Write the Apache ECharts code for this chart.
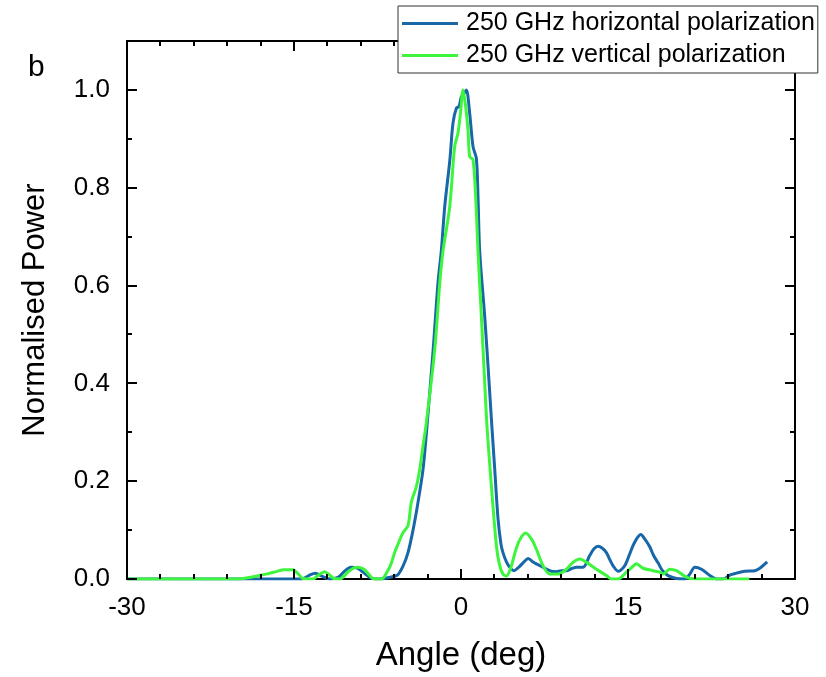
<!DOCTYPE html>
<html>
<head>
<meta charset="utf-8">
<script src="https://cdn.jsdelivr.net/npm/echarts@6/dist/echarts.min.js"></script>
<style>html,body{margin:0;padding:0;background:#fff}#c{width:826px;height:677px}</style>
</head>
<body>
<div id="c"></div>
<script>
// Data (angle in degrees, normalised power)
const hAngle = [-30,-17,-14.3,-13.6,-13.1,-12.5,-11.8,-11.0,-10.5,-9.9,-9.3,-8.7,-8.0,-7.2,-6.5,-6.1,-5.7,-5.2,-4.76,-4.31,-3.86,-3.41,-3.1,-2.5,-2.07,-1.76,-1.46,-1.0,-0.72,-0.41,-0.18,0.03,0.2,0.48,0.78,1.08,1.38,1.53,1.68,2.13,2.43,2.75,3.03,3.33,3.6,3.77,4.08,4.38,4.75,5.27,5.7,6.02,6.4,6.77,7.2,7.67,8.1,8.57,9.0,9.47,9.9,10.37,10.96,11.56,11.95,12.31,12.7,13.06,13.4,13.66,14.1,14.7,15.1,15.45,15.8,16.15,16.5,16.95,17.3,17.7,18.1,18.6,19.35,20.1,20.55,21.0,21.6,22.35,22.95,23.54,24.14,24.74,25.49,26.39,26.84,27.5];
const hPower = [0,0,0,0.008,0.012,0.006,0,0.004,0.015,0.024,0.022,0.012,0.001,0,0.003,0.005,0.008,0.027,0.054,0.10,0.157,0.224,0.30,0.469,0.605,0.673,0.762,0.857,0.932,0.963,0.966,0.986,0.99,1.0,0.952,0.884,0.86,0.78,0.67,0.537,0.435,0.32,0.224,0.122,0.07,0.054,0.035,0.024,0.017,0.026,0.036,0.042,0.036,0.031,0.026,0.020,0.016,0.015,0.017,0.017,0.021,0.024,0.024,0.048,0.062,0.067,0.063,0.054,0.038,0.027,0.016,0.027,0.048,0.068,0.083,0.091,0.082,0.066,0.048,0.033,0.017,0.007,0.001,0,0.010,0.024,0.020,0.007,0,0,0.008,0.012,0.016,0.017,0.022,0.035];
const vAngle = [-30,-20,-19.3,-18.1,-17.3,-16.6,-15.9,-15.1,-14.6,-14.2,-13.3,-12.8,-12.25,-11.8,-11.4,-10.9,-10.15,-9.6,-9.25,-8.65,-8.2,-7.9,-7.15,-6.7,-6.3,-5.96,-5.5,-5.2,-4.76,-4.46,-4.0,-3.71,-3.41,-3.11,-2.36,-1.91,-1.62,-1.01,-0.57,-0.27,-0.05,0.18,0.42,0.63,0.78,1.08,1.32,1.53,1.83,2.13,2.34,2.73,3.18,3.45,3.77,4.08,4.5,4.85,5.27,5.81,6.32,6.77,7.37,7.97,8.72,9.47,10.06,10.66,11.27,12.17,13.06,13.51,14.1,14.86,15.4,15.76,16.35,17.25,17.85,18.15,18.75,19.35,19.95,20.55,22.05,25.9];
const vPower = [0,0,0.002,0.007,0.011,0.015,0.019,0.019,0.01,0.001,0,0.008,0.015,0.008,0.001,0,0.014,0.023,0.024,0.019,0.007,0.001,0,0.012,0.03,0.054,0.08,0.095,0.109,0.157,0.19,0.224,0.272,0.32,0.469,0.605,0.67,0.762,0.884,0.912,0.952,1.0,0.966,0.918,0.864,0.857,0.78,0.67,0.537,0.401,0.31,0.19,0.068,0.03,0.010,0.006,0.025,0.054,0.080,0.094,0.082,0.061,0.027,0.010,0.010,0.020,0.034,0.041,0.034,0.020,0.007,0,0,0.014,0.025,0.031,0.022,0.017,0.014,0.010,0.020,0.017,0.008,0.001,0,0];
const seriesNames = ['250 GHz horizontal polarization', '250 GHz vertical polarization'];
// Tick positions
const xMajorTicks = [-30,-15,0,15,30];
const xMinorTicks = [-27,-24,-21,-18,-12,-9,-6,-3,3,6,9,12,18,21,24,27];
const yMajorTicks = [0,0.2,0.4,0.6,0.8,1.0];
const yMinorTicks = [0.1,0.3,0.5,0.7,0.9];

const FONT = 'Liberation Sans, Arial, sans-serif';
const zip = (a,b) => a.map((v,i)=>[v,b[i]]);
const chart = echarts.init(document.getElementById('c'), null, {renderer:'canvas'});

const X_MIN = xMajorTicks[0], X_MAX = xMajorTicks[xMajorTicks.length-1];
const lineOn = {show:true, onZero:false, lineStyle:{color:'#000', width:2}};
const MAJ = 10, MIN = 5;

function tickRect(x, y, w, h){
  return {type:'rect', shape:{x:x, y:y, width:w, height:h}, style:{fill:'#000'}};
}
const xTickData = xMajorTicks.map(v=>[v, 0, MAJ]).concat(xMinorTicks.map(v=>[v, 0, MIN]));
const yTickData = yMajorTicks.map(v=>[X_MIN, v, MAJ]).concat(yMinorTicks.map(v=>[X_MIN, v, MIN]));

chart.setOption({
  animation:false,
  backgroundColor:'#fff',
  title:{text:'b', left:23, top:48, textStyle:{fontFamily:FONT, fontSize:30, fontWeight:'normal', color:'#000'}},
  grid:{left:127, right:31, top:41, bottom:97},
  legend:{
    data:seriesNames, orient:'vertical', left:398, top:6, z:20,
    itemWidth:56, itemHeight:3, icon:'rect', itemGap:7,
    borderColor:'#333', borderWidth:1, padding:[5,3,5,4],
    textStyle:{fontFamily:FONT, fontSize:25, color:'#000', padding:[0,0,0,3]},
    backgroundColor:'#fff'
  },
  xAxis:[
    {type:'value', min:X_MIN, max:X_MAX, interval:15, position:'bottom', splitLine:{show:false},
     axisLine:lineOn, axisTick:{show:false},
     name:'Angle (deg)', nameLocation:'middle', nameGap:60,
     nameTextStyle:{fontFamily:FONT, fontSize:33, color:'#000'},
     axisLabel:{show:true, margin:16, fontFamily:FONT, fontSize:26, color:'#000'}},
    {type:'value', min:X_MIN, max:X_MAX, interval:15, position:'top', splitLine:{show:false},
     axisLine:lineOn, axisTick:{show:false}, axisLabel:{show:false}}
  ],
  yAxis:[
    {type:'value', min:0, max:1.1, interval:0.2, position:'left', splitLine:{show:false},
     axisLine:lineOn, axisTick:{show:false},
     name:'Normalised Power', nameLocation:'middle', nameGap:76,
     nameTextStyle:{fontFamily:FONT, fontSize:31, color:'#000'},
     axisLabel:{show:true, margin:17, fontFamily:FONT, fontSize:26, color:'#000',
       formatter:v => (v > 1.05 ? '' : v.toFixed(1))}},
    {type:'value', min:0, max:1.1, interval:0.2, position:'right', splitLine:{show:false},
     axisLine:lineOn, axisTick:{show:false}, axisLabel:{show:false}}
  ],
  series:[
    {name:seriesNames[0], type:'line', data:zip(hAngle,hPower), showSymbol:false, symbol:'none',
     smooth:0.3, lineStyle:{color:'#1767a9', width:3}, itemStyle:{color:'#1767a9'}, z:2},
    {name:seriesNames[1], type:'line', data:zip(vAngle,vPower), showSymbol:false, symbol:'none',
     smooth:0.3, lineStyle:{color:'#3cf53c', width:3}, itemStyle:{color:'#3cf53c'}, z:3},
    {name:'xticks', type:'custom', silent:true, clip:false, z:10, data:xTickData,
     encode:{x:0, y:1},
     renderItem:(params, api) => {
       const cs = params.coordSys;
       const px = Math.round(api.coord([api.value(0), 0])[0]);
       const len = api.value(2);
       const yb = cs.y + cs.height, yt = cs.y;
       return {type:'group', children:[tickRect(px-1, yb-len, 2, len), tickRect(px-1, yt, 2, len)]};
     }},
    {name:'yticks', type:'custom', silent:true, clip:false, z:10, data:yTickData,
     encode:{x:0, y:1},
     renderItem:(params, api) => {
       const cs = params.coordSys;
       const py = Math.round(api.coord([api.value(0), api.value(1)])[1]);
       const len = api.value(2);
       const xl = cs.x, xr = cs.x + cs.width;
       return {type:'group', children:[tickRect(xl, py-1, len, 2), tickRect(xr-len, py-1, len, 2)]};
     }}
  ]
});
</script>
</body>
</html>
